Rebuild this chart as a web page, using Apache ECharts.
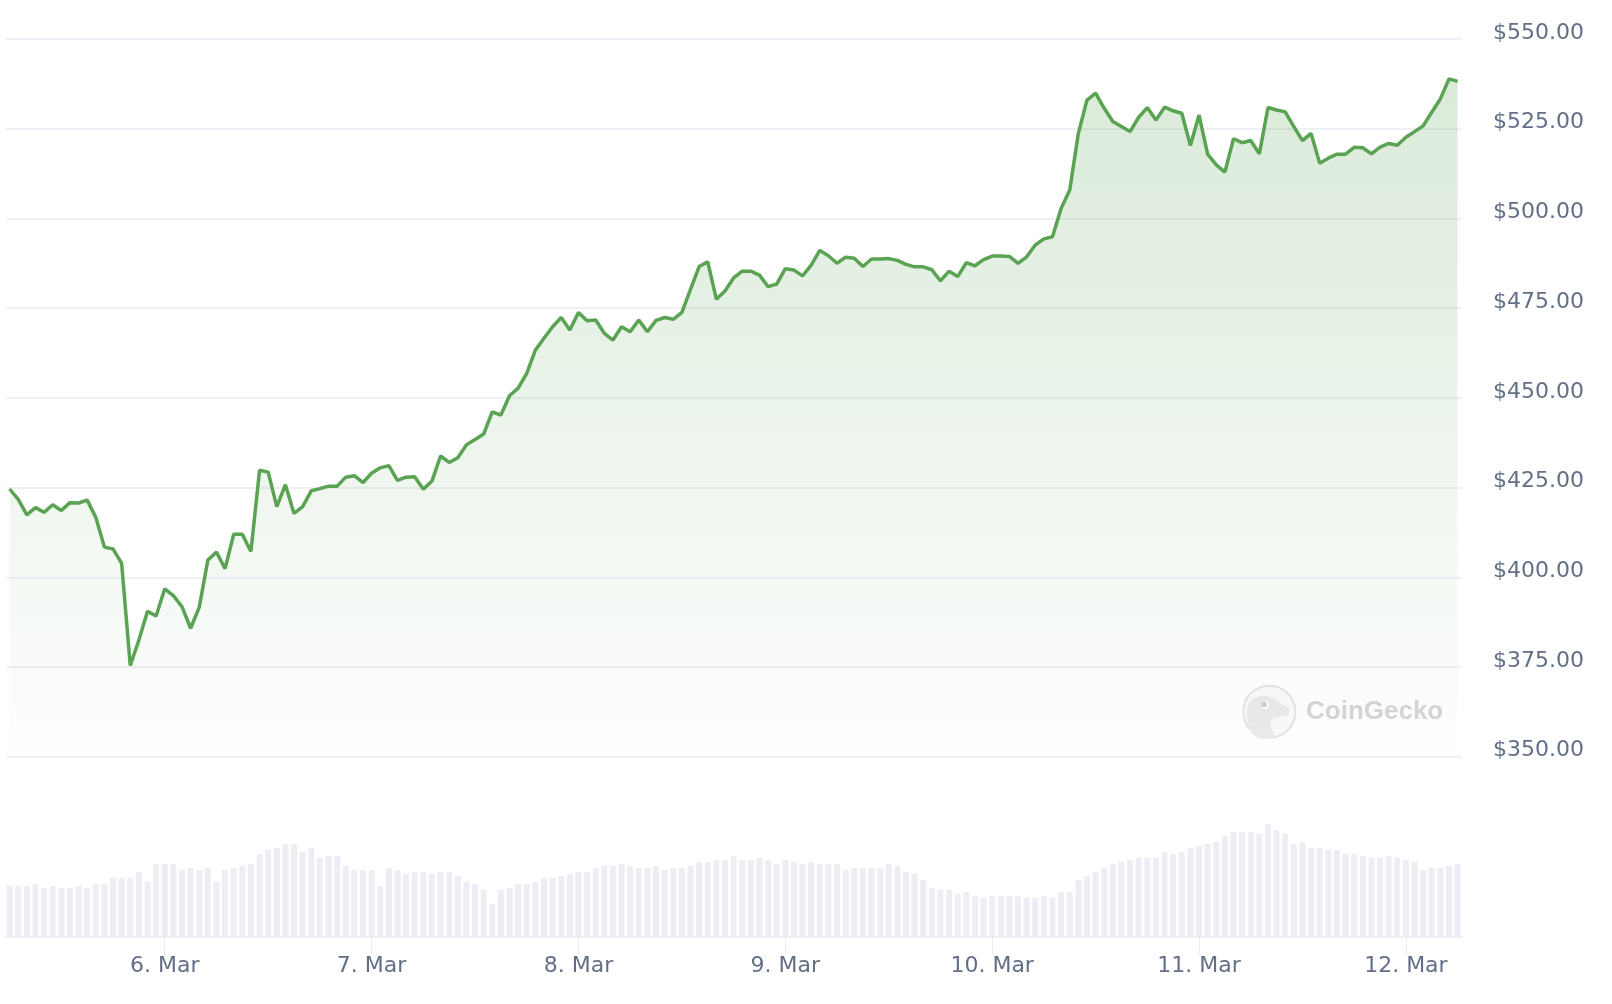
<!DOCTYPE html>
<html><head><meta charset="utf-8">
<style>html,body{margin:0;padding:0;background:#fff}#c{width:1612px;height:1004px}</style>
<script src="https://cdn.jsdelivr.net/npm/echarts@6/dist/echarts.min.js"></script>
</head><body><div id="c"></div><script>
// hourly price (USD), 5 Mar 06:00 -> 12 Mar 06:00
const prices = [
424.6,421.7,417.4,419.4,418.1,420.2,418.6,420.8,420.7,421.5,
416.7,408.4,407.9,403.9,375.4,382.5,390.5,389.2,396.8,394.9,
391.8,385.8,391.6,404.8,407.0,402.4,412.0,412.0,407.2,429.8,
429.3,419.7,425.8,417.8,419.7,424.1,424.7,425.4,425.4,427.9,
428.3,426.4,429.0,430.5,431.1,427.0,427.9,428.0,424.5,426.8,
433.8,432.0,433.3,436.9,438.4,439.9,446.1,445.2,450.6,452.7,
456.8,463.3,466.6,469.8,472.4,468.9,473.8,471.5,471.7,468.0,
466.1,469.8,468.4,471.7,468.4,471.6,472.4,471.9,473.8,480.2,
486.6,487.9,477.5,479.8,483.4,485.3,485.3,484.2,481.0,481.7,
486.0,485.6,484.0,487.0,491.1,489.6,487.5,489.2,488.9,486.6,
488.7,488.7,488.8,488.3,487.2,486.5,486.5,485.7,482.6,485.3,
483.8,487.7,486.8,488.5,489.5,489.5,489.4,487.5,489.3,492.6,
494.3,494.9,502.8,507.9,523.7,533.0,534.9,530.7,527.0,525.6,
524.2,528.2,530.9,527.4,531.0,530.0,529.3,520.3,528.8,517.9,
514.9,512.9,522.2,521.1,521.7,518.0,530.9,530.2,529.7,525.6,
521.7,523.7,515.4,516.8,517.9,517.9,519.8,519.7,518.0,519.9,
520.9,520.4,522.6,524.2,525.8,529.6,533.3,538.9,538.2
];
// hourly volume (relative units)
const volumes = [
507,507,507,527,487,507,487,487,507,487,
527,527,587,587,587,647,547,727,727,727,
667,687,667,687,547,667,687,707,727,827,
867,887,927,927,847,887,787,807,807,707,
667,667,667,507,687,667,627,647,647,627,
647,647,607,547,527,467,327,467,487,527,
527,547,587,587,607,627,647,647,687,707,
707,727,707,687,687,707,667,687,687,707,
747,747,767,767,807,767,767,787,767,727,
767,747,727,747,727,727,727,667,687,687,
687,687,727,707,647,627,567,487,467,467,
427,447,407,387,407,407,407,407,387,387,
407,387,447,447,567,607,647,687,727,747,
767,787,787,787,847,827,847,887,907,927,
947,1007,1047,1047,1047,1027,1127,1067,1027,927,
947,887,887,867,867,827,827,807,787,787,
807,787,767,747,667,687,687,707,727
];
const tickHours = [18,42,66,90,114,138,162];
const tickLabels = ['6. Mar','7. Mar','8. Mar','9. Mar','10. Mar','11. Mar','12. Mar'];
const priceMin = 350, priceMax = 550, priceStep = 25;

const chart = echarts.init(document.getElementById('c'), null, {renderer:'canvas'});
const xMin = -0.418, xMax = 168.51;
const labelColor = '#636f87';
const option = {
  animation:false,
  backgroundColor:'#ffffff',
  grid:[
    {left:6, top:39, width:1456, height:717.7},
    {left:6, top:736.7, width:1456, height:200}
  ],
  xAxis:[
    {gridIndex:0, type:'value', min:xMin, max:xMax, show:false},
    {gridIndex:1, type:'value', min:xMin, max:xMax,
     axisLine:{show:true, lineStyle:{color:'#eef0f4', width:2}},
     axisTick:{show:true, customValues:tickHours, length:18, lineStyle:{color:'#e9ebf0', width:1}},
     axisLabel:{customValues:tickHours,
       formatter:v=>{const k=tickHours.indexOf(Math.round(v));return k>=0?tickLabels[k]:'';},
       margin:19, fontFamily:'DejaVu Sans', fontSize:22, lineHeight:22, color:labelColor},
     splitLine:{show:false}}
  ],
  yAxis:[
    {gridIndex:0, type:'value', position:'right', min:priceMin, max:priceMax, interval:priceStep,
     axisLine:{show:false}, axisTick:{show:false},
     splitLine:{show:true, lineStyle:{color:'#eff0f4', width:2}},
     axisLabel:{margin:31, align:'left', verticalAlign:'bottom', lineHeight:12,
       fontFamily:'DejaVu Sans', fontSize:22, color:labelColor,
       formatter:v=>'$'+v.toFixed(2)}},
    {gridIndex:1, type:'value', min:0, max:2000, show:false}
  ],
  graphic:[
    {type:'circle', z:0, shape:{cx:1269.3, cy:711.7, r:26}, style:{fill:'#fafafa', stroke:'#e4e4e4', lineWidth:2}},
    {type:'polygon', z:0, shape:{smooth:0.35, points:[[1256,737],[1248,722],[1247,709],[1253,699],[1264,696],[1275,699],[1282,704],[1289,709],[1288,715],[1280,717],[1272,719],[1271,726],[1274,737]]}, style:{fill:'#ebebeb'}},
    {type:'circle', z:0, shape:{cx:1265, cy:705, r:5}, style:{fill:'#fdfdfd', stroke:'#e0e0e0', lineWidth:1}},
    {type:'circle', z:0, shape:{cx:1264, cy:704.5, r:2.8}, style:{fill:'#cfcfcf'}},
    {type:'text', z:0, style:{text:'CoinGecko', x:1306, y:712, fill:'#d6d6d6', font:'bold 26px "Liberation Sans", Arial, sans-serif', verticalAlign:'middle', align:'left'}}
  ],
  series:[
    {type:'bar', xAxisIndex:1, yAxisIndex:1, data:volumes.map((v,i)=>[i,v]), barWidth:6,
     itemStyle:{color:'#eceef3'}, silent:true},
    {type:'line', xAxisIndex:0, yAxisIndex:0, data:prices.map((v,i)=>[i,v]), symbol:'none',
     lineStyle:{color:'#59a352', width:3.5}, silent:true,
     areaStyle:{color:new echarts.graphic.LinearGradient(0,0,0,1,[
       {offset:0, color:'rgba(91,163,84,0.32)'},
       {offset:1, color:'rgba(91,163,84,0.01)'}])}}
  ]
};
chart.setOption(option);
</script></body></html>
